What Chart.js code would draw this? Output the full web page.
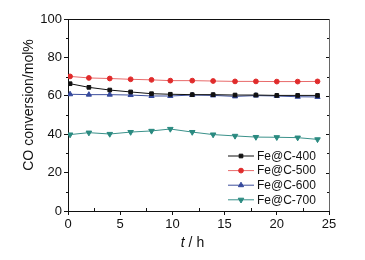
<!DOCTYPE html>
<html>
<head>
<meta charset="UTF-8" />
<title>CO conversion</title>
<script src="https://cdn.jsdelivr.net/npm/chart.js"></script>
<style>
html, body { margin: 0; padding: 0; background: #fff; }
#wrap { width: 365px; height: 260px; }
</style>
</head>
<body>
<div id="wrap"><canvas id="myChart" width="365" height="260"></canvas></div>
<script>
// data
const hours = [0.2, 2, 4, 6, 8, 9.8, 11.9, 13.9, 16, 18, 20, 22, 23.9];
const fe400 = [66.3, 64.4, 63.0, 62.0, 61.1, 60.8, 60.6, 60.6, 60.4, 60.4, 60.2, 60.2, 60.2];
const fe500 = [70.1, 69.3, 69.0, 68.6, 68.3, 67.9, 67.9, 67.7, 67.5, 67.5, 67.4, 67.4, 67.5];
const fe600 = [60.8, 60.6, 60.6, 60.4, 59.9, 59.9, 60.4, 60.2, 59.7, 60.1, 59.9, 59.5, 59.4];
const fe700 = [39.8, 40.8, 40.1, 41.1, 41.7, 42.7, 41.1, 39.8, 39.1, 38.5, 38.4, 38.2, 37.3];
const seriesNames = ['Fe@C-400', 'Fe@C-500', 'Fe@C-600', 'Fe@C-700'];
const xTicks = [0, 5, 10, 15, 20, 25];
const yTicks = [0, 20, 40, 60, 80, 100];

const FONT = '"Liberation Sans", Arial, sans-serif';

function pts(vals) { return vals.map((v, i) => ({ x: hours[i], y: v })); }

const styles = [
  { line: '#111', fill: '#111', shape: 'rect', r: 2.6, rot: 0 },
  { line: '#e86a6a', fill: '#e02b2b', shape: 'circle', r: 2.4, rot: 0 },
  { line: '#3d4f9c', fill: '#34489c', shape: 'triangle', r: 3, rot: 0 },
  { line: '#3a918a', fill: '#2a8a80', shape: 'triangle', r: 3.2, rot: 180 }
];

const datasets = [fe400, fe500, fe600, fe700].map((vals, i) => ({
  label: seriesNames[i],
  data: pts(vals),
  borderColor: styles[i].line,
  backgroundColor: styles[i].fill,
  pointBorderColor: styles[i].fill,
  pointBackgroundColor: styles[i].fill,
  pointStyle: styles[i].shape,
  pointRadius: styles[i].r,
  pointRotation: styles[i].rot,
  borderWidth: 1,
  tension: 0
}));

// frame, minor ticks, axis titles and inner legend
const extras = {
  id: 'extras',
  afterDraw(chart) {
    const ctx = chart.ctx;
    const a = chart.chartArea;
    const xs = chart.scales.x, ys = chart.scales.y;
    ctx.save();
    ctx.strokeStyle = '#111';
    ctx.lineWidth = 1;
    ctx.beginPath();
    ctx.moveTo(a.left, a.top + 0.5); ctx.lineTo(a.right, a.top + 0.5);
    ctx.stroke();
    ctx.strokeStyle = '#666';
    ctx.beginPath();
    ctx.moveTo(a.right + 0.5, a.top); ctx.lineTo(a.right + 0.5, a.bottom);
    ctx.stroke();
    // minor ticks
    ctx.strokeStyle = '#111';
    ctx.beginPath();
    for (let v = 2.5; v < 25; v += 5) {
      const px = Math.round(xs.getPixelForValue(v)) + 0.5;
      ctx.moveTo(px, a.bottom); ctx.lineTo(px, a.bottom - 3);
    }
    for (let v = 10; v < 100; v += 20) {
      const py = Math.round(ys.getPixelForValue(v)) + 0.5;
      ctx.moveTo(a.left, py); ctx.lineTo(a.left - 2, py);
      ctx.moveTo(a.right, py); ctx.lineTo(a.right - 2, py);
    }
    for (let v = 20; v < 100; v += 20) {
      const py = Math.round(ys.getPixelForValue(v)) + 0.5;
      ctx.moveTo(a.right, py); ctx.lineTo(a.right - 3, py);
    }
    ctx.stroke();

    // y title
    ctx.fillStyle = '#111';
    ctx.font = '14px ' + FONT;
    ctx.textAlign = 'center';
    ctx.textBaseline = 'middle';
    ctx.save();
    ctx.translate(29, 105);
    ctx.rotate(-Math.PI / 2);
    ctx.fillText('CO conversion/mol%', 0, 0);
    ctx.restore();

    // x title: italic t, then " / h"
    ctx.textAlign = 'left';
    ctx.textBaseline = 'alphabetic';
    ctx.font = 'italic 14px ' + FONT;
    const tW = ctx.measureText('t').width;
    ctx.font = '14px ' + FONT;
    const restW = ctx.measureText(' / h').width;
    const x0 = 192.5 - (tW + restW) / 2;
    ctx.font = 'italic 14px ' + FONT;
    ctx.fillText('t', x0, 247);
    ctx.font = '14px ' + FONT;
    ctx.fillText(' / h', x0 + tW, 247);

    // legend inside plot
    ctx.font = '12px ' + FONT;
    ctx.textBaseline = 'middle';
    chart.data.datasets.forEach((ds, i) => {
      const y = 156 + i * 14.6;
      ctx.strokeStyle = ds.borderColor;
      ctx.lineWidth = 1;
      ctx.beginPath();
      ctx.moveTo(228, y); ctx.lineTo(254, y);
      ctx.stroke();
      ctx.fillStyle = ds.pointBackgroundColor;
      ctx.strokeStyle = ds.pointBorderColor;
      Chart.helpers.drawPoint(ctx, { pointStyle: ds.pointStyle, radius: ds.pointRadius, rotation: ds.pointRotation, borderWidth: 1 }, 241, y);
      ctx.fillStyle = '#111';
      ctx.fillText(ds.label, 257, y + 0.5);
    });
    ctx.restore();
  }
};

new Chart(document.getElementById('myChart').getContext('2d'), {
  type: 'line',
  data: { datasets },
  options: {
    responsive: false,
    animation: false,
    layout: { padding: { left: 0, right: 36, top: 19, bottom: 0 } },
    plugins: { legend: { display: false }, tooltip: { enabled: false } },
    scales: {
      x: {
        type: 'linear', min: 0, max: 25,
        afterBuildTicks: s => { s.ticks = xTicks.map(v => ({ value: v })); },
        afterFit: s => { s.height = 49; },
        ticks: { color: '#111', font: { size: 13, family: FONT }, padding: 2, maxRotation: 0 },
        grid: { drawOnChartArea: false, tickLength: 4, color: '#111' },
        border: { color: '#111', width: 1 }
      },
      y: {
        min: 0, max: 100,
        afterBuildTicks: s => { s.ticks = yTicks.map(v => ({ value: v })); },
        afterFit: s => { s.width = 68; },
        ticks: { color: '#111', font: { size: 13, family: FONT }, padding: 2 },
        grid: { drawOnChartArea: false, tickLength: 4, color: '#111' },
        border: { color: '#111', width: 1 }
      }
    }
  },
  plugins: [extras]
});
</script>
</body>
</html>
